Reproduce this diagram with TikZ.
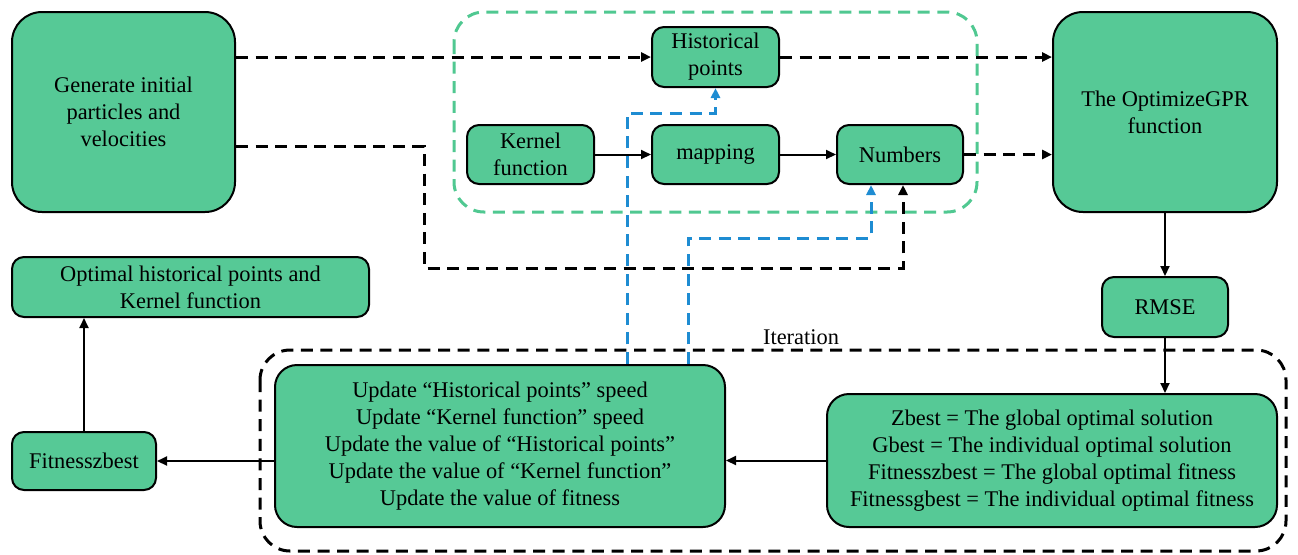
\documentclass[tikz,border=0pt]{standalone}
\usepackage{fontspec}
\setmainfont{Liberation Serif}[Ligatures=TeX]
\usetikzlibrary{arrows.meta,calc}
\definecolor{boxgreen}{RGB}{86,201,150}
\definecolor{dashgreen}{RGB}{80,200,145}
\definecolor{dashblue}{RGB}{30,140,210}
\tikzset{
  txt/.style={font=\rmfamily\fontsize{11.2}{13.6}\selectfont},
  gbox/.style={draw=black, line width=1pt, fill=boxgreen, rounded corners=6pt, inner sep=0pt, align=center, txt},
  bigbox/.style={gbox, rounded corners=15pt},
  midbox/.style={gbox, rounded corners=11pt},
  solidarrow/.style={draw=black, line width=1pt, -{Triangle[length=5pt,width=4.5pt]}},
  dasharrow/.style={draw=black, line width=1.5pt, dash pattern=on 6pt off 3.8pt, -{Triangle[length=5pt,width=4.5pt]}},
  bluearrow/.style={draw=dashblue, line width=1.5pt, dash pattern=on 6pt off 3.8pt, -{Triangle[length=5pt,width=4.5pt]}},
  groupbox/.style={line width=1.5pt, dash pattern=on 6pt off 3.8pt, rounded corners=15pt},
}
\begin{document}
\begin{tikzpicture}[x=0.5pt,y=-0.5pt]
\useasboundingbox (0,0) rectangle (1298,554);
% group frames
\draw[groupbox, draw=dashgreen] (454,12) rectangle (977,212);
\draw[groupbox, draw=black] (260,350) rectangle (1286,551);
\node[txt] (iterlbl) at (801,337) {Iteration};
% nodes
\node[bigbox, minimum width=111.5pt, minimum height=100pt] (gen) at (123.5,112) {Generate initial\\particles and\\velocities};
\node[gbox, minimum width=63.5pt, minimum height=30pt] (hist) at (715.5,57) {Historical\\points};
\node[gbox, minimum width=63.5pt, minimum height=29.5pt] (kern) at (530.5,154.5) {Kernel\\function};
\node[gbox, minimum width=63.5pt, minimum height=29.5pt] (map) at (715.5,154.5) {mapping};
\node[gbox, minimum width=63pt, minimum height=29.5pt] (num) at (900,154.5) {Numbers};
\node[bigbox, minimum width=112pt, minimum height=100pt] (opt) at (1165,112) {The OptimizeGPR\\function};
\node[gbox, minimum width=63pt, minimum height=30pt] (rmse) at (1165,307) {RMSE};
\node[midbox, minimum width=225pt, minimum height=66.5pt] (zb) at (1052,460.5) {Zbest = The global optimal solution\\Gbest = The individual optimal solution\\Fitnesszbest = The global optimal fitness\\Fitnessgbest = The individual optimal fitness};
\node[midbox, minimum width=225pt, minimum height=81pt] (upd) at (500,446) {Update “Historical points” speed\\Update “Kernel function” speed\\Update the value of “Historical points”\\Update the value of “Kernel function”\\Update the value of fitness};
\node[gbox, minimum width=178.5pt, minimum height=30pt] (optimal) at (190.5,287) {Optimal historical points and\\Kernel function};
\node[gbox, minimum width=72pt, minimum height=29pt] (fz) at (84,461) {Fitnesszbest};
% helper coordinates
\coordinate (c1) at (424,268);
\coordinate (b1) at (627,113);
\coordinate (b2) at (688,238);
% connectors
\draw[dasharrow] (gen.east |- hist.west) -- (hist.west);
\draw[dasharrow] (hist.east) -- (hist.east -| opt.west);
\draw[dasharrow] (num.east) -- (num.east -| opt.west);
\draw[dasharrow] ([yshift=-17pt]gen.east) -| (c1) -| ([xshift=1.5pt]num.south);
\draw[solidarrow] (kern) -- (map);
\draw[solidarrow] (map) -- (num);
\draw[solidarrow] (opt) -- (rmse);
\draw[solidarrow] (rmse.south) -- (rmse.south |- zb.north);
\draw[solidarrow] (zb.west) -- (zb.west -| upd.east);
\draw[solidarrow] (upd.west |- fz.east) -- (fz.east);
\draw[solidarrow] (fz.north) -- (fz.north |- optimal.south);
\draw[bluearrow] ([xshift=63.5pt]upd.north) -- (b1) -| (hist.south);
\draw[bluearrow] ([xshift=94pt]upd.north) -- (b2) -| ([xshift=-14.5pt]num.south);
\end{tikzpicture}
\end{document}
